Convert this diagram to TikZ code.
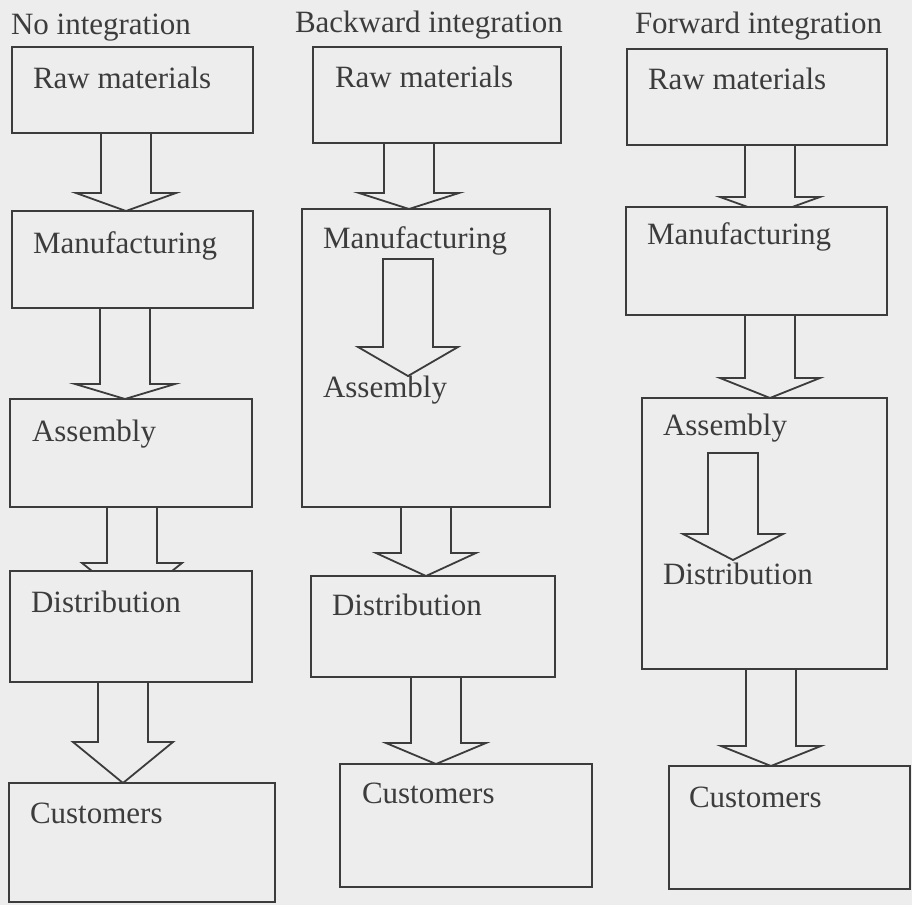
\documentclass[tikz,border=0pt]{standalone}
\usepackage{fontspec}
\setmainfont{Liberation Serif}
\usetikzlibrary{fit,calc}
\definecolor{bg}{HTML}{EDEDED}
\definecolor{ink}{HTML}{3C3C3C}
\pgfdeclarelayer{bgl}
\pgfdeclarelayer{arrows}
\pgfsetlayers{bgl,arrows,main}
\tikzset{
  box/.style={draw=ink, fill=bg, line width=1.8pt, inner sep=0pt, outer sep=0pt},
  lbl/.style={anchor=base west, inner sep=0pt, outer sep=0pt, text=ink,
              font=\fontsize{31}{37}\selectfont},
  arrowline/.style={draw=ink, fill=bg, line width=1.8pt, line join=miter}
}
% block arrow from the bottom of box #1 to the top of box #2
% #3 centre x, #4 y of the wings, #5 how far the tip runs under the top of #2
\newcommand\blockarrow[5]{%
  \draw[arrowline] let \p1=(#1.south), \p2=(#2.north), \p0=(#3,0) in
    (\x0-25pt,\y1) -- (\x0-25pt,-#4pt) -- (\x0-50pt,-#4pt) -- (\x0,\y2-#5pt)
    -- (\x0+50pt,-#4pt) -- (\x0+25pt,-#4pt) -- (\x0+25pt,\y1);
}
% closed block arrow inside a box: #1 centre x, #2 top, #3 wings, #4 tip
\newcommand\innerarrow[4]{%
  \draw[arrowline] (#1-25,#2) -- (#1-25,#3) -- (#1-50,#3) -- (#1,#4)
    -- (#1+50,#3) -- (#1+25,#3) -- (#1+25,#2) -- cycle;
}
\begin{document}
\begin{tikzpicture}[x=1pt,y=-1pt]
\begin{pgfonlayer}{bgl}
  \fill[bg] (0,0) rectangle (912,905);
\end{pgfonlayer}
\useasboundingbox (0,0) rectangle (912,905);

% titles
\node[lbl] (t1) at (11,34) {No integration};
\node[lbl] (t2) at (295,32) {Backward integration};
\node[lbl] (t3) at (635,33) {Forward integration};

% column 1: no integration
\node[box, fit={(12,47) (253,133)}] (r1) {};
\node[box, fit={(12,211) (253,308)}] (m1) {};
\node[box, fit={(10,399) (252,507)}] (a1) {};
\node[box, fit={(10,571) (252,682)}] (d1) {};
\node[box, fit={(9,783) (275,902)}] (c1) {};

% column 2: backward integration
\node[box, fit={(313,47) (561,143)}] (r2) {};
\node[box, fit={(302,209) (550,507)}] (m2) {};
\node[box, fit={(311,576) (555,677)}] (d2) {};
\node[box, fit={(340,764) (592,887)}] (c2) {};

% column 3: forward integration
\node[box, fit={(627,49) (887,145)}] (r3) {};
\node[box, fit={(626,207) (887,315)}] (m3) {};
\node[box, fit={(642,398) (887,669)}] (a3) {};
\node[box, fit={(669,766) (910,889)}] (c3) {};

% labels
\node[lbl] (lr1) at (33,88) {Raw materials};
\node[lbl] (lm1) at (33,253) {Manufacturing};
\node[lbl] (la1) at (32,441) {Assembly};
\node[lbl] (ld1) at (31,612) {Distribution};
\node[lbl] (lc1) at (30,823) {Customers};

\node[lbl] (lr2) at (335,87) {Raw materials};
\node[lbl] (lm2) at (323,248) {Manufacturing};
\node[lbl] (la2) at (323,397) {Assembly};
\node[lbl] (ld2) at (332,615) {Distribution};
\node[lbl] (lc2) at (362,803) {Customers};

\node[lbl] (lr3) at (648,89) {Raw materials};
\node[lbl] (lm3) at (647,244) {Manufacturing};
\node[lbl] (la3) at (663,435) {Assembly};
\node[lbl] (ld3) at (663,584) {Distribution};
\node[lbl] (lc3) at (689,807) {Customers};

% inner arrows
\innerarrow{408}{259}{347}{376}
\innerarrow{733}{453}{534}{560}

% connecting block arrows (behind the boxes)
\begin{pgfonlayer}{arrows}
  \blockarrow{r1}{m1}{126}{193}{0}
  \blockarrow{m1}{a1}{125}{384}{0}
  \blockarrow{a1}{d1}{132}{563}{32}
  \blockarrow{d1}{c1}{123}{742}{0}
  \blockarrow{r2}{m2}{409}{193}{0}
  \blockarrow{m2}{d2}{426}{553}{0}
  \blockarrow{d2}{c2}{436}{743}{0}
  \blockarrow{r3}{m3}{770}{197}{8}
  \blockarrow{m3}{a3}{770}{378}{0}
  \blockarrow{a3}{c3}{771}{746}{0}
\end{pgfonlayer}
\end{tikzpicture}
\end{document}
